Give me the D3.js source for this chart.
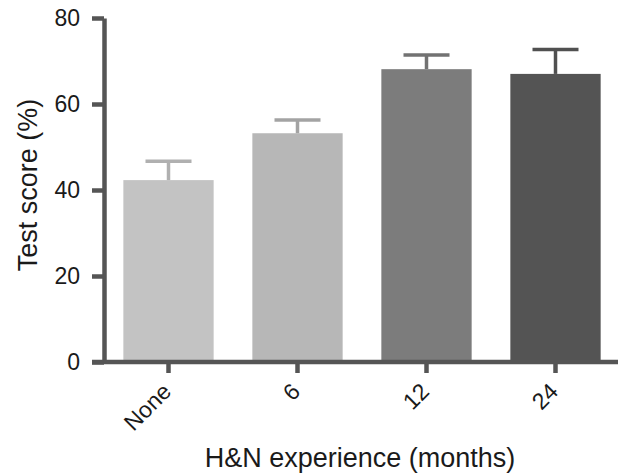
<!DOCTYPE html>
<html>
<head>
<meta charset="utf-8">
<script src="https://cdn.jsdelivr.net/npm/d3@7"></script>
<style>
  body { margin: 0; background: #fff; }
  text { font-family: "Liberation Sans", Arial, sans-serif; fill: #1a1a1a; }
</style>
</head>
<body>
<div id="chart"></div>
<script>
// data
var groups = ["None", "6", "12", "24"];
var means = [42.3, 53.2, 68.1, 67.0];
var sems = [4.4, 3.1, 3.3, 5.7];
var yTicks = [0, 20, 40, 60, 80];

var fills = ["#c3c3c3", "#b7b7b7", "#7c7c7c", "#545454"];
var errColors = ["#b0b0b0", "#a3a3a3", "#727272", "#505050"];
var axisColor = "#555";

var width = 622,
	height = 475;

var svg = d3.select("#chart").append("svg")
	.attr("width", width)
	.attr("height", height);

var x = d3.scaleBand()
	.domain(groups)
	.range([104, 620])
	.paddingInner(0.3)
	.paddingOuter(0.15);

var y = d3.scaleLinear()
	.domain([0, 80])
	.range([362, 18]);

// bars
svg.selectAll("rect.bar")
	.data(groups)
  .enter().append("rect")
	.attr("class", "bar")
	.attr("x", function(d) { return x(d); })
	.attr("y", function(d, i) { return y(means[i]); })
	.attr("width", x.bandwidth())
	.attr("height", function(d, i) { return y(0) - y(means[i]); })
	.style("fill", function(d, i) { return fills[i]; });

// error bars (upper only)
var err = svg.selectAll("g.err")
	.data(groups)
  .enter().append("g")
	.attr("class", "err")
	.style("stroke", function(d, i) { return errColors[i]; })
	.style("stroke-width", 3.5);

err.append("line")
	.attr("x1", function(d) { return x(d) + x.bandwidth() / 2; })
	.attr("x2", function(d) { return x(d) + x.bandwidth() / 2; })
	.attr("y1", function(d, i) { return y(means[i]); })
	.attr("y2", function(d, i) { return y(means[i] + sems[i]); });

err.append("line")
	.attr("x1", function(d) { return x(d) + x.bandwidth() / 2 - 23; })
	.attr("x2", function(d) { return x(d) + x.bandwidth() / 2 + 23; })
	.attr("y1", function(d, i) { return y(means[i] + sems[i]); })
	.attr("y2", function(d, i) { return y(means[i] + sems[i]); });

// y axis
var yAxis = svg.append("g")
	.attr("transform", "translate(104,0)")
	.call(d3.axisLeft(y).tickValues(yTicks).tickSize(12).tickSizeOuter(0).tickPadding(12));

// x axis
var xAxis = svg.append("g")
	.attr("transform", "translate(0,362)")
	.call(d3.axisBottom(x).tickSize(11).tickSizeOuter(0));

xAxis.select(".domain").remove();
xAxis.append("line")
	.attr("x1", 92)
	.attr("x2", 618)
	.attr("stroke", axisColor)
	.attr("stroke-width", 4.5);

xAxis.selectAll(".tick text")
	.attr("text-anchor", "end")
	.attr("x", 0)
	.attr("y", 0)
	.attr("dy", null)
	.attr("transform", "translate(4,31) rotate(-45)");

[yAxis, xAxis].forEach(function(a) {
	a.selectAll(".domain, .tick line")
		.attr("stroke", axisColor)
		.attr("stroke-width", 4.5);
	a.selectAll(".tick text")
		.style("font-size", "23px")
		.style("fill", "#1a1a1a");
});

// axis titles
svg.append("text")
	.attr("transform", "translate(37,185) rotate(-90)")
	.attr("text-anchor", "middle")
	.style("font-size", "27px")
	.text("Test score (%)");

svg.append("text")
	.attr("x", 360)
	.attr("y", 467)
	.attr("text-anchor", "middle")
	.style("font-size", "27px")
	.text("H&N experience (months)");
</script>
</body>
</html>
